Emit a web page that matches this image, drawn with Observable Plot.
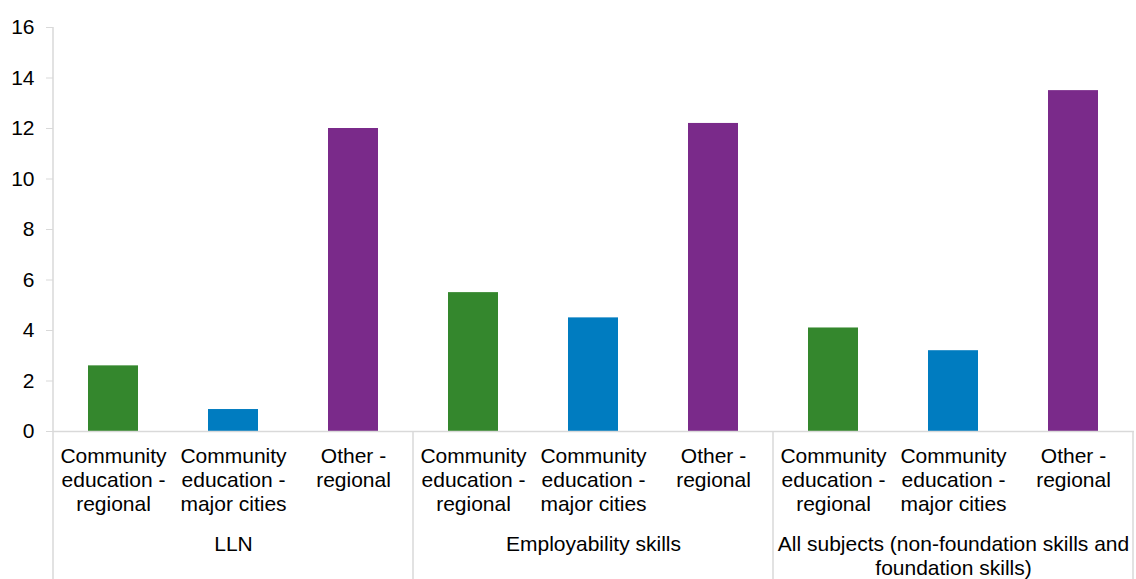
<!DOCTYPE html>
<html>
<head>
<meta charset="utf-8">
<script src="https://cdn.jsdelivr.net/npm/d3@7"></script>
<script src="https://cdn.jsdelivr.net/npm/@observablehq/plot@0.6"></script>
<style>
  html, body { margin: 0; padding: 0; background: #fff; }
  #chart svg { display: block; }
</style>
</head>
<body>
<div id="chart"></div>
<script>
// Subject groups and provider types
const groups = ["LLN", "Employability skills", "All subjects (non-foundation skills and foundation skills)"];
const groupLabels = ["LLN", "Employability skills", "All subjects (non-foundation skills and\nfoundation skills)"];
const providers = ["Community education - regional", "Community education - major cities", "Other - regional"];
const providerLabels = ["Community\neducation -\nregional", "Community\neducation -\nmajor cities", "Other -\nregional"];

// Values per group, in provider order
const llnValues = [2.6, 0.87, 12.0];
const employabilityValues = [5.5, 4.5, 12.2];
const allSubjectsValues = [4.1, 3.2, 13.5];
const groupValues = [llnValues, employabilityValues, allSubjectsValues];

const providerColors = ["#34872d", "#007cc0", "#7a2a8a"];
const yTicks = [0, 2, 4, 6, 8, 10, 12, 14, 16];

const rows = groups.flatMap((g, i) => providers.map((p, j) => ({
  key: `${i}|${j}`,
  group: g,
  groupIndex: i,
  providerIndex: j,
  provider: p,
  providerLabel: providerLabels[j],
  value: groupValues[i][j]
})));

const gridColor = "#d9d9d9";
const fontSize = 21;

// Vertical dividers: the value axis line on the left, and group separators
// running from the baseline down through the category labels.
function dividers(index, scales, values, dims) {
  const x = scales.x, y = scales.y;
  const gap = (x.step() - x.bandwidth()) / 2;
  const g = d3.create("svg:g").attr("stroke", gridColor).attr("stroke-width", 1.5);
  const y0 = y(0);
  groups.forEach((grp, i) => {
    const xl = x(`${i}|0`) - gap;
    g.append("line").attr("x1", xl).attr("x2", xl)
      .attr("y1", i === 0 ? dims.marginTop : y0).attr("y2", dims.height);
  });
  const last = x(`${groups.length - 1}|${providers.length - 1}`) + x.bandwidth() + gap;
  g.append("line").attr("x1", last).attr("x2", last).attr("y1", y0).attr("y2", dims.height);
  return g.node();
}

const chart = Plot.plot({
  width: 1136,
  height: 579,
  marginTop: 27,
  marginBottom: 148,
  marginLeft: 53,
  marginRight: 2,
  style: { fontFamily: "'Liberation Sans', Arial, sans-serif", fontSize: `${fontSize}px`, color: "#000", background: "#fff" },
  x: { domain: rows.map(d => d.key), paddingInner: 0.583, paddingOuter: 0.2915, axis: null },
  y: { domain: [0, 16], axis: null },
  marks: [
    Plot.barY(rows, {
      x: "key",
      y: "value",
      fill: d => providerColors[d.providerIndex]
    }),
    Plot.ruleY([0], { stroke: gridColor, strokeWidth: 1.5 }),
    Plot.axisY({
      ticks: yTicks,
      tickSize: 7,
      tickPadding: 12,
      stroke: gridColor,
      fill: "#000",
      fontSize,
      label: null
    }),
    dividers,
    Plot.text(rows, {
      x: "key",
      text: "providerLabel",
      frameAnchor: "bottom",
      lineAnchor: "top",
      lineHeight: 1.14,
      dy: 14.6,
      fontSize,
      fill: "#000"
    }),
    Plot.text(rows.filter(d => d.providerIndex === 1), {
      x: "key",
      text: d => groupLabels[d.groupIndex],
      frameAnchor: "bottom",
      lineAnchor: "top",
      lineHeight: 1.14,
      dy: 102.6,
      fontSize,
      fill: "#000"
    })
  ]
});

document.getElementById("chart").append(chart);
</script>
</body>
</html>
